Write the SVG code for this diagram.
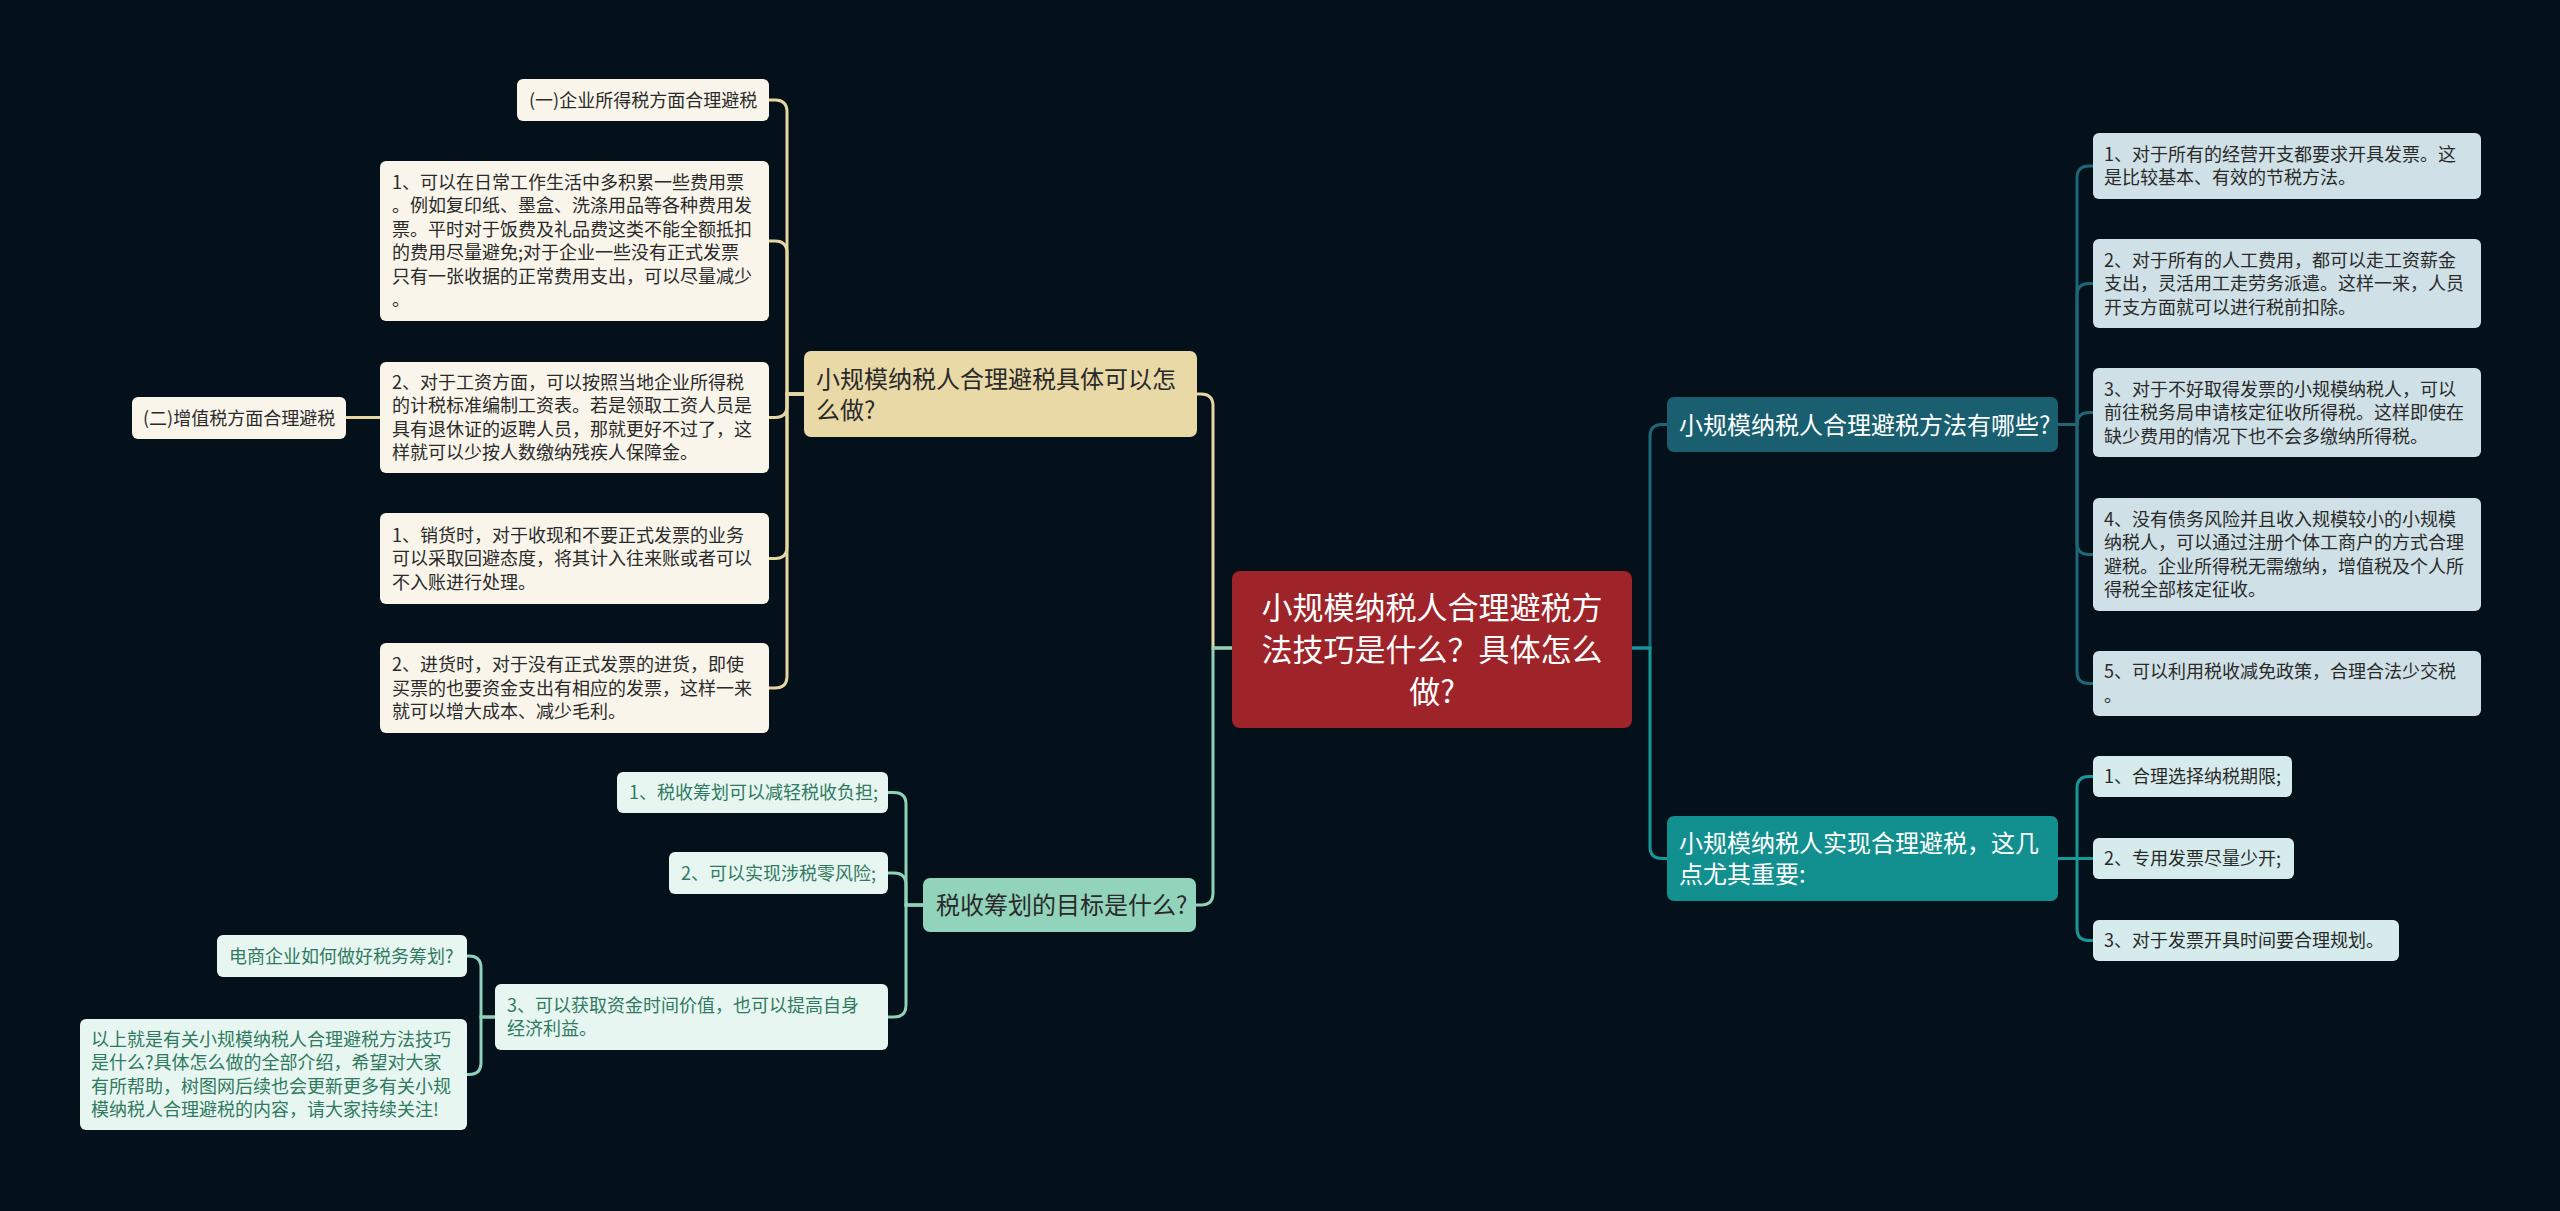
<svg xmlns="http://www.w3.org/2000/svg" width="2560" height="1211" viewBox="0 0 2560 1211">
<style>
text{font-family:"Noto Sans CJK SC","Noto Sans",sans-serif;}
.lf{font-size:18px;}
.br{font-size:24px;}
.ct{font-size:31px;fill:#ffffff;}
.dk{fill:#2a2a2a;}
.wh{fill:#ffffff;}
.gt{fill:#2f7a60;}
.cy{fill:none;stroke:#e6d6a2;stroke-width:3;}
.cg{fill:none;stroke:#90d1b9;stroke-width:3;}
.cb{fill:none;stroke:#1d6778;stroke-width:3;}
.ctl{fill:none;stroke:#16979a;stroke-width:3;}
.ny{fill:#e9d9a7;}
.nyl{fill:#f9f5ea;}
.ng{fill:#92d3bb;}
.ngl{fill:#e8f6f1;}
.nb{fill:#195f70;}
.nbl{fill:#cfe1e6;}
.nt{fill:#12908f;}
.ntl{fill:#d6ecec;}
</style>
<rect x="0" y="0" width="2560" height="1211" fill="#04111a"/>
<g id="connectors">
<path class="cy" d="M1232,648 H1213 V406 Q1213,394 1201,394 H1197"/>
<path class="cy" d="M804,394 H787 V112 Q787,100 775,100 H769"/>
<path class="cy" d="M804,394 H787 V253 Q787,241 775,241 H769"/>
<path class="cy" d="M804,394 H787 V405.5 Q787,417.5 775,417.5 H769"/>
<path class="cy" d="M804,394 H787 V546.5 Q787,558.5 775,558.5 H769"/>
<path class="cy" d="M804,394 H787 V676 Q787,688 775,688 H769"/>
<path class="cy" d="M380,417.5 H346"/>
<path class="cg" d="M1232,648 H1213 V893 Q1213,905 1201,905 H1196"/>
<path class="cg" d="M923,905 H906 V804.5 Q906,792.5 894,792.5 H888"/>
<path class="cg" d="M923,905 H906 V885 Q906,873 894,873 H888"/>
<path class="cg" d="M923,905 H906 V1005 Q906,1017 894,1017 H888"/>
<path class="cg" d="M495,1017 H481 V968 Q481,956 469,956 H467"/>
<path class="cg" d="M495,1017 H481 V1062.5 Q481,1074.5 469,1074.5 H467"/>
<path class="cb" d="M1632,648 H1650 V436.5 Q1650,424.5 1662,424.5 H1667"/>
<path class="cb" d="M2058,424.5 H2077 V178 Q2077,166 2089,166 H2093"/>
<path class="cb" d="M2058,424.5 H2077 V295.5 Q2077,283.5 2089,283.5 H2093"/>
<path class="cb" d="M2058,424.5 H2077 V424.5 Q2077,412.5 2089,412.5 H2093"/>
<path class="cb" d="M2058,424.5 H2077 V542.5 Q2077,554.5 2089,554.5 H2093"/>
<path class="cb" d="M2058,424.5 H2077 V671.5 Q2077,683.5 2089,683.5 H2093"/>
<path class="ctl" d="M1632,648 H1650 V846.5 Q1650,858.5 1662,858.5 H1667"/>
<path class="ctl" d="M2058,858.5 H2077 V788.5 Q2077,776.5 2089,776.5 H2093"/>
<path class="ctl" d="M2058,858.5 H2093"/>
<path class="ctl" d="M2058,858.5 H2077 V928.5 Q2077,940.5 2089,940.5 H2093"/>
</g>
<g id="center">
<rect x="1232" y="571" width="400" height="157" rx="8" fill="#9e2429"/>
<text class="ct" text-anchor="middle"><tspan x="1432" y="619">小规模纳税人合理避税方</tspan><tspan x="1432" y="661">法技巧是什么？具体怎么</tspan><tspan x="1432" y="703">做?</tspan></text>
</g>
<g id="n-yellow">
<rect class="ny" x="804" y="351" width="393" height="86" rx="7"/>
<text class="br dk"><tspan x="816" y="387.5">小规模纳税人合理避税具体可以怎</tspan><tspan x="816" y="418.5">么做?</tspan></text>
</g>
<g id="y1">
<rect class="nyl" x="517" y="79" width="252" height="42" rx="6"/>
<text class="lf dk" x="529" y="106.5">(一)企业所得税方面合理避税</text>
</g>
<g id="y2">
<rect class="nyl" x="380" y="161" width="389" height="160" rx="6"/>
<text class="lf dk"><tspan x="392" y="188.75">1、可以在日常工作生活中多积累一些费用票</tspan><tspan x="392" y="212.25">。例如复印纸、墨盒、洗涤用品等各种费用发</tspan><tspan x="392" y="235.75">票。平时对于饭费及礼品费这类不能全额抵扣</tspan><tspan x="392" y="259.25">的费用尽量避免;对于企业一些没有正式发票</tspan><tspan x="392" y="282.75">只有一张收据的正常费用支出，可以尽量减少</tspan><tspan x="392" y="306.25">。</tspan></text>
</g>
<g id="y3">
<rect class="nyl" x="380" y="362" width="389" height="111" rx="6"/>
<text class="lf dk"><tspan x="392" y="388.75">2、对于工资方面，可以按照当地企业所得税</tspan><tspan x="392" y="412.25">的计税标准编制工资表。若是领取工资人员是</tspan><tspan x="392" y="435.75">具有退休证的返聘人员，那就更好不过了，这</tspan><tspan x="392" y="459.25">样就可以少按人数缴纳残疾人保障金。</tspan></text>
</g>
<g id="y3a">
<rect class="nyl" x="132" y="397" width="214" height="42" rx="6"/>
<text class="lf dk" x="143" y="424.5">(二)增值税方面合理避税</text>
</g>
<g id="y4">
<rect class="nyl" x="380" y="513" width="389" height="91" rx="6"/>
<text class="lf dk"><tspan x="392" y="541.5">1、销货时，对于收现和不要正式发票的业务</tspan><tspan x="392" y="565">可以采取回避态度，将其计入往来账或者可以</tspan><tspan x="392" y="588.5">不入账进行处理。</tspan></text>
</g>
<g id="y5">
<rect class="nyl" x="380" y="643" width="389" height="90" rx="6"/>
<text class="lf dk"><tspan x="392" y="671">2、进货时，对于没有正式发票的进货，即使</tspan><tspan x="392" y="694.5">买票的也要资金支出有相应的发票，这样一来</tspan><tspan x="392" y="718">就可以增大成本、减少毛利。</tspan></text>
</g>
<g id="n-green">
<rect class="ng" x="923" y="878" width="273" height="54" rx="7"/>
<text class="br dk" x="936" y="914">税收筹划的目标是什么?</text>
</g>
<g id="g1">
<rect class="ngl" x="617" y="772" width="271" height="41" rx="6"/>
<text class="lf gt" x="629" y="799">1、税收筹划可以减轻税收负担;</text>
</g>
<g id="g2">
<rect class="ngl" x="669" y="852" width="219" height="42" rx="6"/>
<text class="lf gt" x="681" y="879.5">2、可以实现涉税零风险;</text>
</g>
<g id="g3">
<rect class="ngl" x="495" y="984" width="393" height="66" rx="6"/>
<text class="lf gt"><tspan x="507" y="1011.75">3、可以获取资金时间价值，也可以提高自身</tspan><tspan x="507" y="1035.25">经济利益。</tspan></text>
</g>
<g id="g3a">
<rect class="ngl" x="217" y="935" width="250" height="42" rx="6"/>
<text class="lf gt" x="229" y="962.5">电商企业如何做好税务筹划?</text>
</g>
<g id="g3b">
<rect class="ngl" x="80" y="1019" width="387" height="111" rx="6"/>
<text class="lf gt"><tspan x="91" y="1045.75">以上就是有关小规模纳税人合理避税方法技巧</tspan><tspan x="91" y="1069.25">是什么?具体怎么做的全部介绍，希望对大家</tspan><tspan x="91" y="1092.75">有所帮助，树图网后续也会更新更多有关小规</tspan><tspan x="91" y="1116.25">模纳税人合理避税的内容，请大家持续关注!</tspan></text>
</g>
<g id="n-blue">
<rect class="nb" x="1667" y="397" width="391" height="55" rx="7"/>
<text class="br wh" x="1679" y="433.5">小规模纳税人合理避税方法有哪些?</text>
</g>
<g id="b1">
<rect class="nbl" x="2093" y="133" width="388" height="66" rx="6"/>
<text class="lf dk"><tspan x="2104" y="160.75">1、对于所有的经营开支都要求开具发票。这</tspan><tspan x="2104" y="184.25">是比较基本、有效的节税方法。</tspan></text>
</g>
<g id="b2">
<rect class="nbl" x="2093" y="239" width="388" height="89" rx="6"/>
<text class="lf dk"><tspan x="2104" y="266.5">2、对于所有的人工费用，都可以走工资薪金</tspan><tspan x="2104" y="290">支出，灵活用工走劳务派遣。这样一来，人员</tspan><tspan x="2104" y="313.5">开支方面就可以进行税前扣除。</tspan></text>
</g>
<g id="b3">
<rect class="nbl" x="2093" y="368" width="388" height="89" rx="6"/>
<text class="lf dk"><tspan x="2104" y="395.5">3、对于不好取得发票的小规模纳税人，可以</tspan><tspan x="2104" y="419">前往税务局申请核定征收所得税。这样即使在</tspan><tspan x="2104" y="442.5">缺少费用的情况下也不会多缴纳所得税。</tspan></text>
</g>
<g id="b4">
<rect class="nbl" x="2093" y="498" width="388" height="113" rx="6"/>
<text class="lf dk"><tspan x="2104" y="525.75">4、没有债务风险并且收入规模较小的小规模</tspan><tspan x="2104" y="549.25">纳税人，可以通过注册个体工商户的方式合理</tspan><tspan x="2104" y="572.75">避税。企业所得税无需缴纳，增值税及个人所</tspan><tspan x="2104" y="596.25">得税全部核定征收。</tspan></text>
</g>
<g id="b5">
<rect class="nbl" x="2093" y="651" width="388" height="65" rx="6"/>
<text class="lf dk"><tspan x="2104" y="678.25">5、可以利用税收减免政策，合理合法少交税</tspan><tspan x="2104" y="701.75">。</tspan></text>
</g>
<g id="n-teal">
<rect class="nt" x="1667" y="816" width="391" height="85" rx="7"/>
<text class="br wh"><tspan x="1679" y="852">小规模纳税人实现合理避税，这几</tspan><tspan x="1679" y="883">点尤其重要:</tspan></text>
</g>
<g id="t1">
<rect class="ntl" x="2093" y="756" width="199" height="41" rx="6"/>
<text class="lf dk" x="2104" y="783">1、合理选择纳税期限;</text>
</g>
<g id="t2">
<rect class="ntl" x="2093" y="838" width="201" height="41" rx="6"/>
<text class="lf dk" x="2104" y="865">2、专用发票尽量少开;</text>
</g>
<g id="t3">
<rect class="ntl" x="2093" y="920" width="306" height="41" rx="6"/>
<text class="lf dk" x="2104" y="947">3、对于发票开具时间要合理规划。</text>
</g>
</svg>
